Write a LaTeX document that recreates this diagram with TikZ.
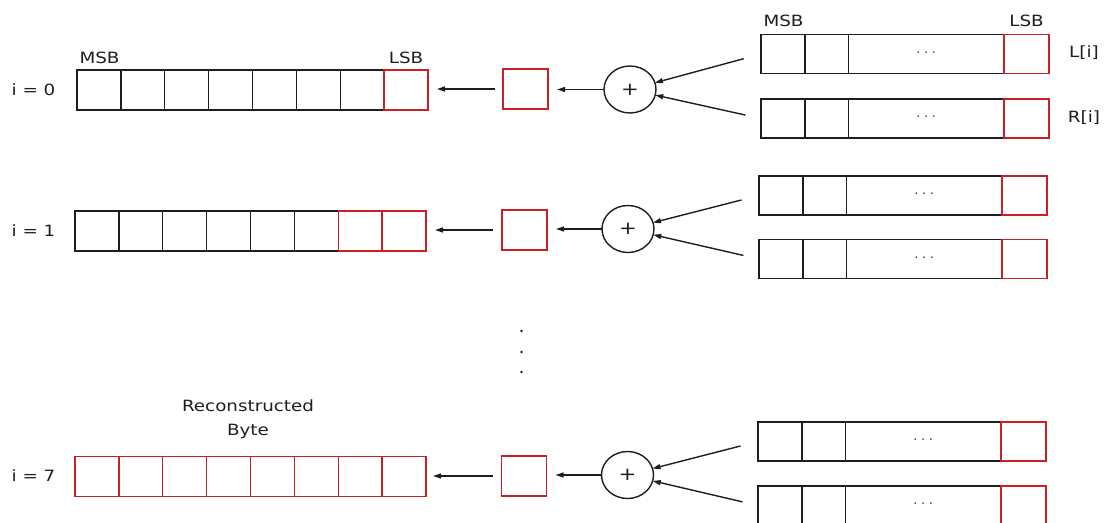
\documentclass[tikz,border=0pt]{standalone}
\usepackage{fontspec}
\setmainfont[FakeStretch=1.18]{DejaVu Sans}
\usetikzlibrary{arrows.meta,shapes.geometric}
\definecolor{myred}{RGB}{200,32,36}
\definecolor{myblack}{RGB}{30,30,30}
\newcommand{\byterow}[4]{%
  \foreach \k in {1,...,8}{\ifnum\k<#4\relax
    \node[cell] (#1-\k) at ({#2+(\k-0.5)*43.875},#3) {};\fi}
  \foreach \k in {1,...,8}{\ifnum\k<#4\relax\else
    \node[redcell] (#1-\k) at ({#2+(\k-0.5)*43.875},#3) {};\fi}}
\newcommand{\srcrow}[3]{%
  \node[scell, minimum width=44pt] (#1-1) at ({#2+22},#3) {};
  \node[scell, minimum width=43.5pt] (#1-2) at ({#2+65.75},#3) {};
  \node[scell, minimum width=155.5pt, font=\fontsize{11}{11}\selectfont] (#1-3) at ({#2+165.25},#3) {·\,\,·\,\,·};
  \node[scell, draw=myred, minimum width=45pt] (#1-4) at ({#2+265.5},#3) {};}
\begin{document}
\begin{tikzpicture}[x=1pt,y=-1pt, line width=1.4pt,
  every node/.style={font=\fontsize{15.5}{18}\selectfont, text=myblack},
  cell/.style={draw=myblack, minimum width=43.875pt, minimum height=40pt, inner sep=0pt, outer sep=0pt},
  redcell/.style={cell, draw=myred},
  scell/.style={draw=myblack, minimum height=39pt, inner sep=0pt, outer sep=0pt},
  smallbox/.style={draw=myred, minimum width=45pt, minimum height=40pt, inner sep=0pt, outer sep=0pt},
  adder/.style={ellipse, draw=myblack, minimum width=52pt, minimum height=47pt, inner sep=0pt, outer sep=0pt, font=\fontsize{18}{18}\selectfont},
  arr/.style={draw=myblack, -{Triangle[length=8pt,width=5pt]}},
  vdot/.style={circle, fill=myblack, inner sep=0pt, minimum size=2.6pt}]
\useasboundingbox (0,0) rectangle (1105,522);
\clip (0,0) rectangle (1105,522);

% ---- row i = 0
\byterow{a0}{77}{90}{8}
\node[smallbox] (b0) at (525.5,89) {};
\node[adder] (s0) at (630,89.5) {+};
\srcrow{L0}{761}{54}
\srcrow{R0}{761}{118.5}
\draw[arr, shorten <=8pt, shorten >=9pt] (b0.west) -- (b0.west -| a0-8.east);
\draw[arr, shorten >=9pt] (s0.west) -- (s0.west -| b0.east);
\draw[arr, shorten <=18pt] (L0-1.west) -- (s0);
\draw[arr, shorten <=16pt] (R0-1.west) -- (s0);

% ---- row i = 1
\byterow{a1}{75}{231}{7}
\node[smallbox] (b1) at (524.5,230) {};
\node[adder] (s1) at (628,229) {+};
\srcrow{L1}{759}{195.5}
\srcrow{R1}{759}{259}
\draw[arr, shorten <=9pt, shorten >=9pt] (b1.west) -- (b1.west -| a1-8.east);
\draw[arr, shorten >=9pt] (s1.west) -- (s1.west -| b1.east);
\draw[arr, shorten <=18pt] (L1-1.west) -- (s1);
\draw[arr, shorten <=16pt] (R1-1.west) -- (s1);

% ---- row i = 7
\byterow{a7}{75}{476.5}{1}
\node[smallbox] (b7) at (524,476) {};
\node[adder] (s7) at (627.5,475) {+};
\srcrow{L7}{758}{441.5}
\srcrow{R7}{758}{505.5}
\draw[arr, shorten <=9pt, shorten >=7pt] (b7.west) -- (b7.west -| a7-8.east);
\draw[arr, shorten >=9pt] (s7.west) -- (s7.west -| b7.east);
\draw[arr, shorten <=18pt] (L7-1.west) -- (s7);
\draw[arr, shorten <=16pt] (R7-1.west) -- (s7);

% ---- labels
\node (i0) at (33.5,90) {i = 0};
\node (i1) at (33.5,231) {i = 1};
\node (i7) at (33.5,476) {i = 7};
\node (msbl) at (99.5,57.5) {MSB};
\node (lsbl) at (406,57.5) {LSB};
\node (msbr) at (783.5,21) {MSB};
\node (lsbr) at (1026.5,21) {LSB};
\node (li) at (1084,53) {L[i]};
\node (ri) at (1084,118) {R[i]};
\node[align=center, font=\fontsize{15.5}{24}\selectfont] (rb) at (248,419) {Reconstructed\\Byte};

% ---- vertical ellipsis
\node[vdot] (d1) at (521.5,331) {};
\node[vdot] (d2) at (521.5,352) {};
\node[vdot] (d3) at (521.5,372) {};
\end{tikzpicture}
\end{document}
